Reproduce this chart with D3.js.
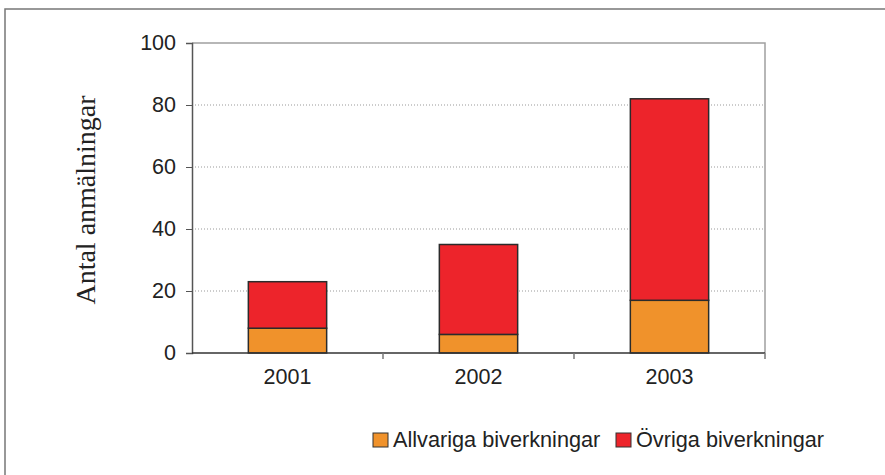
<!DOCTYPE html>
<html>
<head>
<meta charset="utf-8">
<script src="https://cdn.jsdelivr.net/npm/d3@7"></script>
<style>
  body { margin: 0; background: #fff; }
  text { font-family: "Liberation Sans", Arial, sans-serif; fill: #222; }
</style>
</head>
<body>
<div id="chart"></div>
<script>
// data
const years = ["2001", "2002", "2003"];
const allvariga = [8, 6, 17];
const ovriga = [15, 29, 65];
const yTicks = [0, 20, 40, 60, 80, 100];
const seriesNames = ["Allvariga biverkningar", "Övriga biverkningar"];
const colors = ["#f0922b", "#ed242b"];

const width = 885;
const height = 475;
const margin = { top: 43, bottom: 122, left: 192, right: 120 };
const innerWidth = width - margin.left - margin.right;
const innerHeight = height - margin.top - margin.bottom;

const data = years.map((y, i) => ({ year: y, a: allvariga[i], o: ovriga[i] }));
const stacked = d3.stack().keys(["a", "o"])(data);

const svg = d3.select("#chart").append("svg")
  .attr("width", width)
  .attr("height", height);

// outer frame (only top + left visible)
svg.append("path")
  .attr("d", `M5,${height}V9H${width}`)
  .attr("fill", "none")
  .attr("stroke", "#777")
  .attr("stroke-width", 1.5);

//scales
const xScale = d3.scaleBand()
  .domain(years)
  .range([0, innerWidth])
  .paddingInner(0.59)
  .paddingOuter(0.295);

const xCat = d3.scaleBand().domain(years).range([0, innerWidth]);

const yScale = d3.scaleLinear()
  .domain([0, 100])
  .range([innerHeight, 0]);

const g = svg.append("g")
  .attr("transform", `translate(${margin.left},${margin.top})`);

// grid
g.append("g")
  .selectAll("line")
  .data(yTicks.filter(d => d > 0 && d < 100))
  .join("line")
  .attr("x1", 0).attr("x2", innerWidth)
  .attr("y1", d => yScale(d)).attr("y2", d => yScale(d))
  .attr("stroke", "#999")
  .attr("stroke-width", 1)
  .attr("stroke-dasharray", "1,2");

// plot area border (top and right)
g.append("path")
  .attr("d", `M0,${yScale(100)}H${innerWidth}V${innerHeight}`)
  .attr("fill", "none")
  .attr("stroke", "#a0a0a0")
  .attr("stroke-width", 1.5);

// bars
g.append("g")
  .selectAll("g")
  .data(stacked)
  .join("g")
  .attr("fill", (d, i) => colors[i])
  .selectAll("rect")
  .data(d => d)
  .join("rect")
  .attr("x", d => xScale(d.data.year))
  .attr("y", d => yScale(d[1]))
  .attr("width", xScale.bandwidth())
  .attr("height", d => yScale(d[0]) - yScale(d[1]))
  .attr("stroke", "#2b2b2b")
  .attr("stroke-width", 1.5);

// y axis
g.append("g")
  .call(d3.axisLeft(yScale).tickValues(yTicks).tickSize(6).tickPadding(10))
  .call(ax => {
    ax.select(".domain").attr("stroke", "#555").attr("stroke-width", 1.5);
    ax.selectAll(".tick line").attr("stroke", "#555");
    ax.selectAll("text").style("font-size", "21.5px").attr("fill", "#222");
  });

// x axis
g.append("g")
  .attr("transform", `translate(0,${innerHeight})`)
  .call(ax => {
    ax.append("line")
      .attr("x1", 0).attr("x2", innerWidth)
      .attr("stroke", "#333").attr("stroke-width", 1.5);
    ax.selectAll(".xt")
      .data(years)
      .join("line")
      .attr("class", "xt")
      .attr("x1", d => xCat(d) + xCat.bandwidth()).attr("x2", d => xCat(d) + xCat.bandwidth())
      .attr("y1", 0).attr("y2", 6)
      .attr("stroke", "#777").attr("stroke-width", 1.5);
    ax.selectAll(".xl")
      .data(years)
      .join("text")
      .attr("class", "xl")
      .attr("x", d => xCat(d) + xCat.bandwidth() / 2)
      .attr("y", 31)
      .attr("text-anchor", "middle")
      .style("font-size", "21.5px")
      .text(d => d);
  });

// y label
svg.append("text")
  .attr("transform", `translate(95,${margin.top + innerHeight / 2 + 2}) rotate(-90)`)
  .attr("text-anchor", "middle")
  .style("font-family", "'Liberation Serif', 'Times New Roman', serif")
  .style("font-size", "28px")
  .text("Antal anmälningar");

// legend
const legendX = [373, 616];
const legend = svg.append("g");
seriesNames.forEach((name, i) => {
  legend.append("rect")
    .attr("x", legendX[i]).attr("y", 433)
    .attr("width", 15).attr("height", 14)
    .attr("fill", colors[i])
    .attr("stroke", "#333")
    .attr("stroke-width", 1);
  legend.append("text")
    .attr("x", legendX[i] + 20)
    .attr("y", 447)
    .style("font-size", "21.7px")
    .text(name);
});
</script>
</body>
</html>
